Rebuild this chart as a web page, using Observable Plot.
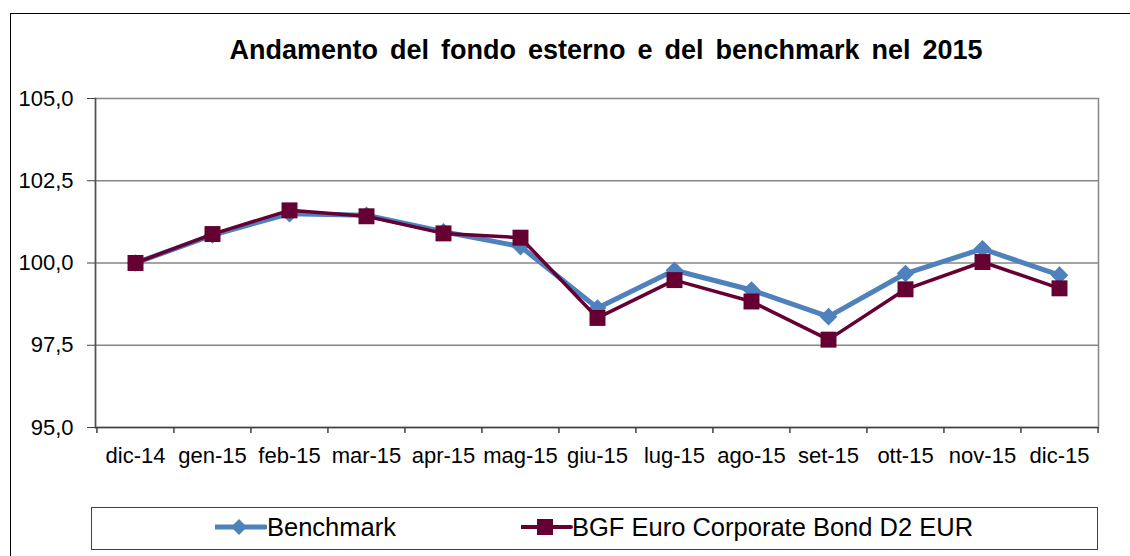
<!DOCTYPE html>
<html>
<head>
<meta charset="utf-8">
<script src="https://cdn.jsdelivr.net/npm/d3@7"></script>
<script src="https://cdn.jsdelivr.net/npm/@observablehq/plot@0.6"></script>
<style>
  html, body { margin: 0; padding: 0; background: #fff; overflow: hidden; }
  body { width: 1130px; height: 556px; position: relative; font-family: "Liberation Sans", Arial, sans-serif; }
  #frame { position: absolute; left: 10px; top: 13px; width: 1200px; height: 600px; border-left: 1.5px solid #000; border-top: 1.5px solid #000; }
  #title { position: absolute; left: 0; width: 1212px; top: 36px; text-align: center; font-weight: bold; font-size: 27px; line-height: 28px; word-spacing: 4.5px; color: #000; }
  #chart { position: absolute; left: 0; top: 80px; }
  #legend { position: absolute; left: 91px; top: 507px; width: 1005px; height: 41px; border: 1.5px solid #404040; }
  .lg { position: absolute; font-size: 25.5px; line-height: 25px; color: #000; white-space: nowrap; }
  .sw { position: absolute; }
</style>
</head>
<body>
<div id="frame"></div>
<div id="title">Andamento del fondo esterno e del benchmark nel 2015</div>
<div id="chart"></div>
<div id="legend"></div>
<script>
const months = ["dic-14","gen-15","feb-15","mar-15","apr-15","mag-15","giu-15","lug-15","ago-15","set-15","ott-15","nov-15","dic-15"];
const benchmark = [100.0, 100.85, 101.5, 101.45, 100.95, 100.5, 98.63, 99.78, 99.18, 98.37, 99.68, 100.43, 99.63];
const fund = [100.0, 100.88, 101.6, 101.42, 100.9, 100.77, 98.33, 99.48, 98.83, 97.67, 99.2, 100.03, 99.23];
const yTicks = [95, 97.5, 100, 102.5, 105];
const seriesNames = ["Benchmark", "BGF Euro Corporate Bond D2 EUR"];
const colors = ["#4F81BD", "#660033"];

const benchData = months.map((m, i) => ({month: m, value: benchmark[i]}));
const fundData = months.map((m, i) => ({month: m, value: fund[i]}));

const W = 1130, H = 400, mL = 95, mR = 32, mT = 18, mB = 53;
const step = (W - mL - mR) / months.length;
const fmt = d => d3.format(".1f")(d).replace(".", ",");

const chart = Plot.plot({
  width: W,
  height: H,
  marginLeft: mL,
  marginRight: mR,
  marginTop: mT,
  marginBottom: mB,
  style: {fontFamily: "'Liberation Sans', Arial, sans-serif", fontSize: "22px", color: "#000", background: "transparent", overflow: "visible"},
  x: {type: "point", domain: months, padding: 0.5},
  y: {domain: [95, 105]},
  marks: [
    Plot.gridY(yTicks.slice(1, -1), {stroke: "#868686", strokeOpacity: 1, strokeWidth: 1.5}),
    Plot.frame({stroke: "#868686", strokeWidth: 1.5}),
    Plot.frame({anchor: "left", stroke: "#505050", strokeWidth: 1.5}),
    Plot.ruleY([95], {stroke: "#404040", strokeWidth: 1.5}),
    Plot.axisY({ticks: yTicks, tickFormat: fmt, tickSize: 8, tickPadding: 14, stroke: "#404040", label: null, fontSize: 22}),
    Plot.axisX({tickSize: 0, tickPadding: 20, label: null, fontSize: 22}),
    Plot.ruleX(months, {x: d => d, dx: -step / 2, insetTop: H - mT - mB, insetBottom: -6, stroke: "#404040", strokeWidth: 1.5}),
    Plot.ruleX(months.slice(-1), {x: d => d, dx: step / 2, insetTop: H - mT - mB, insetBottom: -6, stroke: "#404040", strokeWidth: 1.5}),
    Plot.line(benchData, {x: "month", y: "value", stroke: colors[0], strokeWidth: 5}),
    Plot.dot(benchData, {x: "month", y: "value", symbol: "diamond2", r: 7, fill: colors[0], stroke: colors[0]}),
    Plot.line(fundData, {x: "month", y: "value", stroke: colors[1], strokeWidth: 3.5}),
    Plot.dot(fundData, {x: "month", y: "value", symbol: "square", r: 9, fill: colors[1], stroke: "none"})
  ]
});
document.getElementById("chart").appendChild(chart);

// Legend
const legendItems = [
  {name: seriesNames[0], color: colors[0], sym: "diamond", lineX: 215, textX: 267},
  {name: seriesNames[1], color: colors[1], sym: "square", lineX: 521, textX: 572}
];
legendItems.forEach(it => {
  const sw = document.createElementNS("http://www.w3.org/2000/svg", "svg");
  sw.setAttribute("width", 52); sw.setAttribute("height", 20);
  sw.setAttribute("class", "sw");
  sw.style.left = it.lineX + "px"; sw.style.top = "517px";
  let inner = `<line x1="0" x2="50" y1="10" y2="10" stroke="${it.color}" stroke-width="${it.sym === "diamond" ? 5 : 4}" stroke-linecap="round"/>`;
  if (it.sym === "diamond") inner += `<path d="M24,2 L32,10 L24,18 L16,10 Z" fill="${it.color}"/>`;
  else inner += `<rect x="16" y="2" width="16" height="16" fill="${it.color}"/>`;
  sw.innerHTML = inner;
  document.body.appendChild(sw);
  const t = document.createElement("div");
  t.className = "lg";
  t.textContent = it.name;
  t.style.left = it.textX + "px"; t.style.top = "515px";
  document.body.appendChild(t);
});
</script>
</body>
</html>
